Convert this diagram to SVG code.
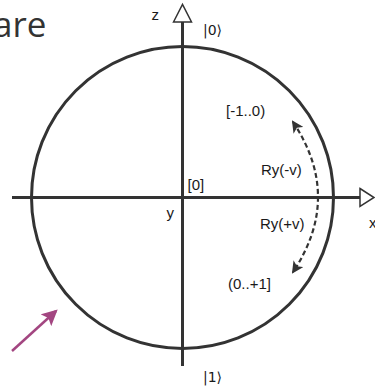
<svg xmlns="http://www.w3.org/2000/svg" width="375" height="386" viewBox="0 0 375 386">
  <style>
    .ax { stroke: #333; stroke-width: 3; fill: none; }
    .head { fill: #fff; stroke: #333; stroke-width: 1.5; stroke-linejoin: miter; }
    .lbl { font-family: "Liberation Sans", Arial, sans-serif; font-size: 15px; fill: #1a1a1a; }
    .ket { font-family: "DejaVu Sans", "Liberation Sans", sans-serif; font-size: 14px; fill: #1a1a1a; }
  </style>
  <defs>
    <marker id="dashHead" viewBox="0 0 12 12" refX="10" refY="6" markerWidth="12" markerHeight="12" markerUnits="userSpaceOnUse" orient="auto-start-reverse">
      <path d="M0,0 L12,6 L0,12 L3,6 Z" fill="#333"/>
    </marker>
    <marker id="pinkHead" viewBox="0 0 14 14" refX="12" refY="7" markerWidth="16" markerHeight="16" markerUnits="userSpaceOnUse" orient="auto">
      <path d="M0,0 L14,7 L0,14 L3,7 Z" fill="#a34681"/>
    </marker>
  </defs>

  <text x="-7" y="37" font-family="'Open Sans', 'DejaVu Sans', sans-serif" font-size="35" fill="#333">are</text>

  <g id="sphere">
    <circle cx="182.5" cy="197.5" r="151" class="ax"/>
  </g>

  <g id="connectors">
    <line x1="12" y1="197.5" x2="360" y2="197.5" class="ax"/>
    <polygon points="360,188.5 374,197.5 360,206.5" class="head"/>
    <line x1="182.5" y1="22" x2="182.5" y2="366" class="ax"/>
    <polygon points="173.5,22 182.5,4.5 191.5,22" class="head"/>
    <path d="M293,122 Q343,197 293,272" fill="none" stroke="#333" stroke-width="2.2" stroke-dasharray="5,3" marker-start="url(#dashHead)" marker-end="url(#dashHead)"/>
    <line x1="12" y1="351" x2="56" y2="311" stroke="#a34681" stroke-width="2.5" marker-end="url(#pinkHead)"/>
  </g>

  <g id="labels">
    <text x="151.5" y="20" class="lbl" font-size="14">z</text>
    <text x="203" y="35" class="ket">|0⟩</text>
    <text x="203" y="382" class="ket">|1⟩</text>
    <text x="187.5" y="190" class="lbl">[0]</text>
    <text x="166.5" y="218" class="lbl">y</text>
    <text x="369" y="228" class="lbl">x</text>
    <text x="226" y="115.5" class="lbl">[-1..0)</text>
    <text x="261" y="175" class="lbl">Ry(-v)</text>
    <text x="260" y="229" class="lbl">Ry(+v)</text>
    <text x="228" y="289" class="lbl">(0..+1]</text>
  </g>
</svg>
